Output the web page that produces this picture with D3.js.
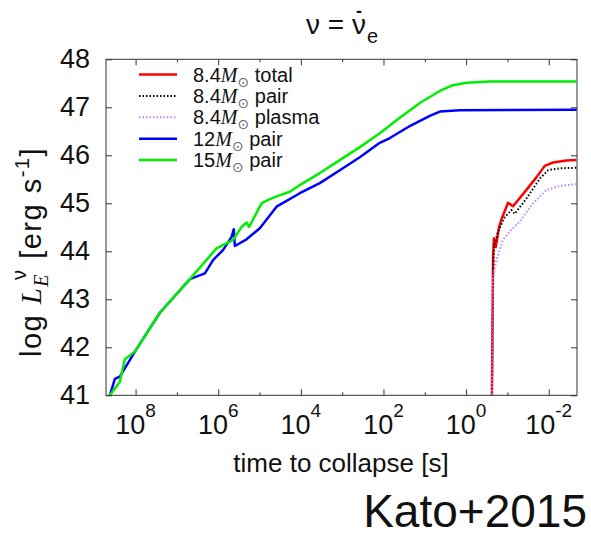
<!DOCTYPE html>
<html>
<head>
<meta charset="utf-8">
<script src="https://cdn.jsdelivr.net/npm/d3@7"></script>
<style>
body { margin: 0; background: #fff; }
text { font-family: "Liberation Sans", Arial, sans-serif; fill: #111; }
</style>
</head>
<body>
<div id="chart"></div>
<script>
//Width and height
var w = 591;
var h = 535;
var plotL = 106, plotR = 577, plotT = 59.3, plotB = 395.3;

// ticks
var xTicks = [1e8, 1e6, 1e4, 1e2, 1, 1e-2];
var xExps = ["8", "6", "4", "2", "0", "-2"];
var xMinor = [1e7, 1e5, 1e3, 1e1, 1e-1];
var yTicks = [41, 42, 43, 44, 45, 46, 47, 48];

// [time to collapse (s), log L]
var m84total = [[0.24, 40.5], [0.222, 43.9], [0.212, 44.27], [0.191, 44.09], [0.159, 44.51],
    [0.139, 44.67], [0.0965, 45.01], [0.0731, 44.94], [0.0347, 45.28], [0.0199, 45.54],
    [0.0125, 45.78], [0.00787, 45.85], [0.00373, 45.89], [0.00214, 45.90]];
var m84pair = [[0.24, 40.5], [0.222, 43.6], [0.212, 44.10], [0.169, 44.41], [0.116, 44.71],
    [0.0798, 44.86], [0.0665, 44.78], [0.0347, 45.10], [0.0162, 45.52], [0.0104, 45.69],
    [0.00542, 45.73], [0.00214, 45.74]];
var m84plasma = [[0.24, 40.5], [0.223, 43.47], [0.184, 43.82], [0.128, 44.24], [0.0798, 44.45],
    [0.0504, 44.62], [0.024, 45.0], [0.0114, 45.28], [0.00542, 45.36], [0.00214, 45.40]];
var m12pair = [[4.19e8, 41.0], [3.17e8, 41.34], [2.4e8, 41.39], [1.04e8, 41.91], [2.58e7, 42.72],
    [4.85e6, 43.42], [2.1e6, 43.54], [1.32e6, 43.82], [7.59e5, 44.03], [4.75e5, 44.30],
    [4.19e5, 44.46], [3.96e5, 44.11], [2.06e5, 44.25], [9.84e4, 44.48], [3.87e4, 44.93],
    [1.06e4, 45.21], [3480, 45.42], [1140, 45.69], [374, 45.96], [123, 46.26], [70, 46.36],
    [23, 46.61], [7.6, 46.82], [4.3, 46.91], [1.42, 46.94], [2.1e-3, 46.95]];
var m15pair = [[4.19e8, 41.0], [2.4e8, 41.28], [1.82e8, 41.75], [1.04e8, 41.91], [2.58e7, 42.72],
    [4.85e6, 43.42], [1.1e6, 44.06], [4.35e5, 44.24], [2.72e5, 44.51], [2.06e5, 44.60],
    [1.78e5, 44.51], [8.93e4, 45.0], [6.19e4, 45.07], [3.23e4, 45.17], [1.85e4, 45.24],
    [1.06e4, 45.38], [3480, 45.63], [1140, 45.90], [374, 46.17], [123, 46.46], [40.3, 46.78],
    [13.2, 47.09], [4.34, 47.34], [2.1, 47.46], [0.96, 47.51], [0.27, 47.54], [2.1e-3, 47.54]];

var series = [
    { name: "8.4", label: "total", data: m84total, color: "#ff0000", width: 2.5, dash: null },
    { name: "8.4", label: "pair", data: m84pair, color: "#000000", width: 2, dash: "1.5,2" },
    { name: "8.4", label: "plasma", data: m84plasma, color: "#bb88ff", width: 2, dash: "1.5,2" },
    { name: "12", label: "pair", data: m12pair, color: "#0000ff", width: 2.5, dash: null },
    { name: "15", label: "pair", data: m15pair, color: "#00ee00", width: 2.5, dash: null }
];

var svg = d3.select("#chart")
    .append("svg")
    .attr("width", w)
    .attr("height", h);

//Create scale functions
var xScale = d3.scaleLog()
    .domain([5.2e8, 2.07e-3])
    .range([plotL, plotR]);

var yScale = d3.scaleLinear()
    .domain([41, 48])
    .range([plotB, plotT]);

svg.append("clipPath")
    .attr("id", "clip")
    .append("rect")
    .attr("x", plotL)
    .attr("y", plotT)
    .attr("width", plotR - plotL)
    .attr("height", plotB - plotT);

//Axes (ticks inward, mirrored)
function styleAxis(g) {
    g.select(".domain").remove();
    g.selectAll("line").attr("stroke", "#333");
}
svg.append("g")
    .attr("transform", "translate(0," + plotB + ")")
    .call(d3.axisBottom(xScale).tickValues(xTicks).tickSizeInner(-6).tickSizeOuter(0).tickFormat(""))
    .call(styleAxis);
svg.append("g")
    .attr("transform", "translate(0," + plotB + ")")
    .call(d3.axisBottom(xScale).tickValues(xMinor).tickSizeInner(-3).tickSizeOuter(0).tickFormat(""))
    .call(styleAxis);
svg.append("g")
    .attr("transform", "translate(0," + plotT + ")")
    .call(d3.axisTop(xScale).tickValues(xTicks).tickSizeInner(-6).tickSizeOuter(0).tickFormat(""))
    .call(styleAxis);
svg.append("g")
    .attr("transform", "translate(0," + plotT + ")")
    .call(d3.axisTop(xScale).tickValues(xMinor).tickSizeInner(-3).tickSizeOuter(0).tickFormat(""))
    .call(styleAxis);
svg.append("g")
    .attr("transform", "translate(" + plotL + ",0)")
    .call(d3.axisLeft(yScale).tickValues(yTicks).tickFormat(d3.format("d"))
        .tickSizeInner(-6).tickSizeOuter(0).tickPadding(16))
    .call(styleAxis)
    .selectAll("text")
    .style("font-size", "27px")
    .attr("fill", "#111")
    .attr("font-family", null);
svg.append("g")
    .attr("transform", "translate(" + plotR + ",0)")
    .call(d3.axisRight(yScale).tickValues(yTicks).tickSizeInner(-6).tickSizeOuter(0).tickFormat(""))
    .call(styleAxis);

svg.append("rect")
    .attr("x", plotL)
    .attr("y", plotT)
    .attr("width", plotR - plotL)
    .attr("height", plotB - plotT)
    .attr("fill", "none")
    .attr("stroke", "#333")
    .attr("stroke-width", 1);

// x tick labels 10^n
xTicks.forEach(function (v, i) {
    var t = svg.append("text")
        .attr("x", xScale(v))
        .attr("y", 434)
        .attr("text-anchor", "middle")
        .style("font-size", "27px");
    t.append("tspan").text("10");
    t.append("tspan").attr("dy", -17).style("font-size", "19px").text(xExps[i]);
});

//Create lines
var line = d3.line()
    .x(function (d) { return xScale(d[0]); })
    .y(function (d) { return yScale(d[1]); });

svg.append("g")
    .attr("clip-path", "url(#clip)")
    .selectAll("path")
    .data(series)
    .enter()
    .append("path")
    .attr("d", function (d) { return line(d.data); })
    .attr("fill", "none")
    .attr("stroke", function (d) { return d.color; })
    .attr("stroke-width", function (d) { return d.width; })
    .attr("stroke-dasharray", function (d) { return d.dash; })
    .attr("stroke-linejoin", "round");

//Legend
var leg = svg.append("g");
series.forEach(function (s, i) {
    var ly = 74.5 + i * 21.4;
    leg.append("line")
        .attr("x1", 139).attr("x2", 177)
        .attr("y1", ly).attr("y2", ly)
        .attr("stroke", s.color)
        .attr("stroke-width", s.width)
        .attr("stroke-dasharray", s.dash);
    var t = leg.append("text")
        .attr("x", 193)
        .attr("y", ly + 7)
        .style("font-size", "20px");
    t.append("tspan").text(s.name);
    t.append("tspan")
        .style("font-family", "'Liberation Serif', 'Times New Roman', serif")
        .style("font-style", "italic")
        .text("M");
    t.append("tspan")
        .attr("dy", 5)
        .style("font-family", "'DejaVu Sans', sans-serif")
        .style("font-size", "14px")
        .attr("fill", "#666")
        .text("\u2299");
    t.append("tspan").attr("dy", -5).text(" " + s.label);
});

//Title
var title = svg.append("text")
    .attr("x", 342)
    .attr("y", 34)
    .attr("text-anchor", "middle")
    .style("font-size", "28px");
title.append("tspan").text("\u03bd = \u03bd");
title.append("tspan").attr("dx", -10).attr("dy", -17)
    .style("font-size", "18px").style("font-weight", "bold").text("-");
title.append("tspan").attr("dx", 5).attr("dy", 26).style("font-size", "20px").text("e");

//Y label
var yl = svg.append("text")
    .attr("transform", "translate(41,252) rotate(-90)")
    .attr("text-anchor", "middle")
    .style("font-size", "29px")
    .style("letter-spacing", "1.5px");
yl.append("tspan").text("log ");
yl.append("tspan")
    .style("font-family", "'Liberation Serif', 'Times New Roman', serif")
    .style("font-style", "italic")
    .text("L");
yl.append("tspan")
    .attr("dy", 7)
    .style("font-family", "'Liberation Serif', 'Times New Roman', serif")
    .style("font-style", "italic")
    .style("font-size", "20px")
    .text("E");
yl.append("tspan")
    .attr("dx", -7)
    .attr("dy", -22)
    .style("font-size", "20px")
    .text("\u03bd");
yl.append("tspan").attr("dy", 15).text("  [erg s");
yl.append("tspan").attr("dy", -12).style("font-size", "20px").text("-1");
yl.append("tspan").attr("dy", 12).text("]");

//X label
svg.append("text")
    .attr("x", 341)
    .attr("y", 472)
    .attr("text-anchor", "middle")
    .style("font-size", "26px")
    .text("time to collapse [s]");

//Credit
svg.append("text")
    .attr("x", 587)
    .attr("y", 527)
    .attr("text-anchor", "end")
    .style("font-size", "46px")
    .text("Kato+2015");
</script>
</body>
</html>
